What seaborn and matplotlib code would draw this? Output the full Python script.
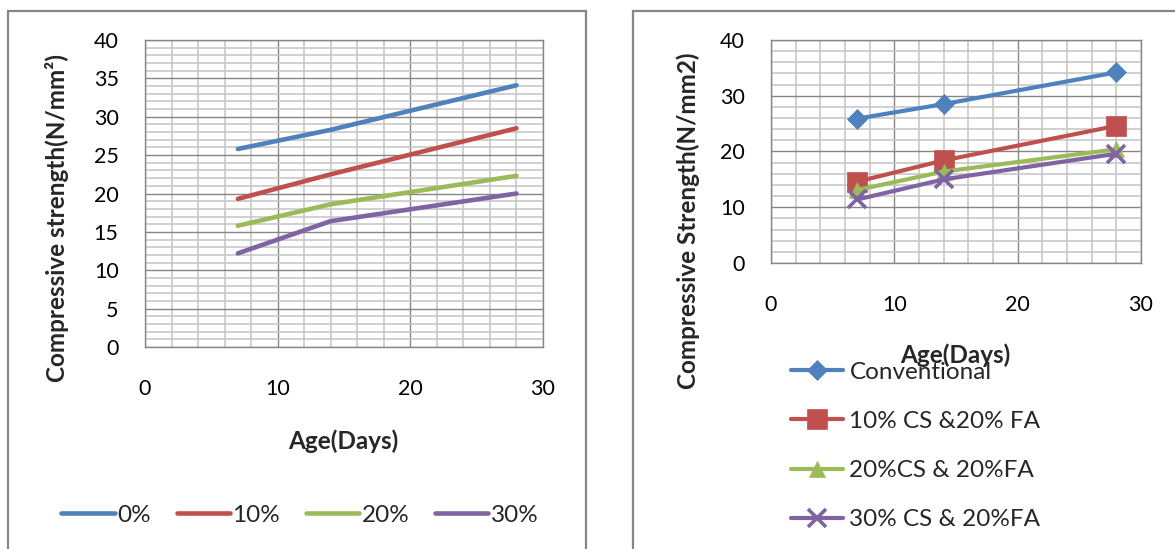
import numpy as np
import pandas as pd
import matplotlib
matplotlib.use('Agg')
import matplotlib.pyplot as plt
from matplotlib.patches import Rectangle
from matplotlib.ticker import MultipleLocator
import seaborn as sns

# Data
days = [7, 14, 28]

left_names = ['0%', '10%', '20%', '30%']
left_0 = [25.8, 28.3, 34.1]
left_10 = [19.3, 22.5, 28.5]
left_20 = [15.8, 18.6, 22.3]
left_30 = [12.2, 16.4, 20.0]

right_names = ['Conventional', '10% CS &20% FA', '20%CS & 20%FA', '30% CS & 20%FA']
right_conv = [25.9, 28.5, 34.2]
right_10 = [14.6, 18.4, 24.6]
right_20 = [13.1, 16.4, 20.4]
right_30 = [11.4, 15.0, 19.6]

colors = ['#4F81BD', '#C0504D', '#9BBB59', '#8064A2']
grid_major = '#868686'
grid_minor = '#C4C4C4'

sns.set_style('white')
plt.rcParams['font.family'] = ['Lato', 'DejaVu Sans']

fig = plt.figure(figsize=(11.75, 5.49), dpi=100)
W, H = 1175, 549


def px_axes(x0, x1, ytop, ybot):
    return fig.add_axes([x0 / W, 1 - ybot / H, (x1 - x0) / W, (ybot - ytop) / H])


def style_axes(ax, ymax, ymajor, yminor):
    ax.set_xlim(0, 30)
    ax.set_ylim(0, ymax)
    ax.xaxis.set_major_locator(MultipleLocator(10))
    ax.xaxis.set_minor_locator(MultipleLocator(2))
    ax.yaxis.set_major_locator(MultipleLocator(ymajor))
    ax.yaxis.set_minor_locator(MultipleLocator(yminor))
    ax.grid(which='minor', color=grid_minor, lw=1.1)
    ax.grid(which='major', color=grid_major, lw=1.0)
    ax.set_axisbelow(True)
    for s in ax.spines.values():
        s.set_color(grid_major)
        s.set_linewidth(1.0)
    ax.tick_params(which='major', direction='out', length=6, width=1,
                   color=grid_major, labelsize=15.5, labelcolor='black')
    ax.tick_params(axis='y', which='major', pad=13)
    ax.tick_params(axis='x', which='major', pad=17)
    ax.tick_params(which='minor', length=0)


# ---- left chart ----
ax1 = px_axes(145, 543, 40, 347)
left_df = pd.DataFrame({
    'Age': days * 4,
    'Strength': left_0 + left_10 + left_20 + left_30,
    'Mix': [n for n in left_names for _ in days],
})
sns.lineplot(data=left_df, x='Age', y='Strength', hue='Mix', palette=colors,
             linewidth=3.3, ax=ax1, solid_capstyle='round')
style_axes(ax1, 40, 5, 1)
ax1.set_xlabel('Age(Days)', fontsize=17.5, fontweight='bold', va='center')
ax1.set_ylabel('Compressive strength(N/mm²)', fontsize=17.5, fontweight='bold', va='center')
ax1.xaxis.set_label_coords(0.4975, -0.306)
ax1.yaxis.set_label_coords(-0.22, 0.42)
h1, l1 = ax1.get_legend_handles_labels()
ax1.legend(h1, l1, loc='center', bbox_to_anchor=(300 / W, 1 - 515 / H),
           bbox_transform=fig.transFigure, ncol=4, frameon=False, fontsize=17.5,
           handlelength=2.2, handletextpad=0.1, columnspacing=1.05, borderpad=0)

# ---- right chart ----
ax2 = px_axes(771, 1141, 40, 263)
right_series = [right_conv, right_10, right_20, right_30]
markers = ['D', 's', '^', 'x']
msizes = [9.8, 14, 12, 13]
for name, vals, c, m, ms in zip(right_names, right_series, colors, markers, msizes):
    sns.lineplot(x=days, y=vals, color=c, marker=m, markersize=ms,
                 markeredgecolor=c, markerfacecolor=c,
                 markeredgewidth=2.6 if m == 'x' else 0.5,
                 linewidth=3.0, label=name, ax=ax2)
style_axes(ax2, 40, 10, 2)
ax2.set_xlabel('Age(Days)', fontsize=17.5, fontweight='bold', va='center')
ax2.set_ylabel('Compressive Strength(N/mm2)', fontsize=17.5, fontweight='bold', va='center')
ax2.xaxis.set_label_coords(0.497, -0.413)
ax2.yaxis.set_label_coords(-0.224, 0.188)
h2, l2 = ax2.get_legend_handles_labels()
leg2 = ax2.legend(h2, l2, loc='center left', bbox_to_anchor=(779 / W, 1 - 446 / H),
                  bbox_transform=fig.transFigure, frameon=False, fontsize=17.5,
                  handlelength=2.15, handletextpad=0.25, labelspacing=1.16,
                  borderpad=0, numpoints=1)
leg2.set_zorder(1)

# chart area frames
fig.add_artist(Rectangle((8 / W, -0.1), (586 - 8) / W, 1.1 - 11 / H,
                         transform=fig.transFigure, fill=False,
                         ec=grid_major, lw=1.6))
fig.add_artist(Rectangle((633 / W, -0.1), 0.5, 1.1 - 11 / H,
                         transform=fig.transFigure, fill=False,
                         ec=grid_major, lw=1.6))

fig.savefig('out.png', dpi=100)
